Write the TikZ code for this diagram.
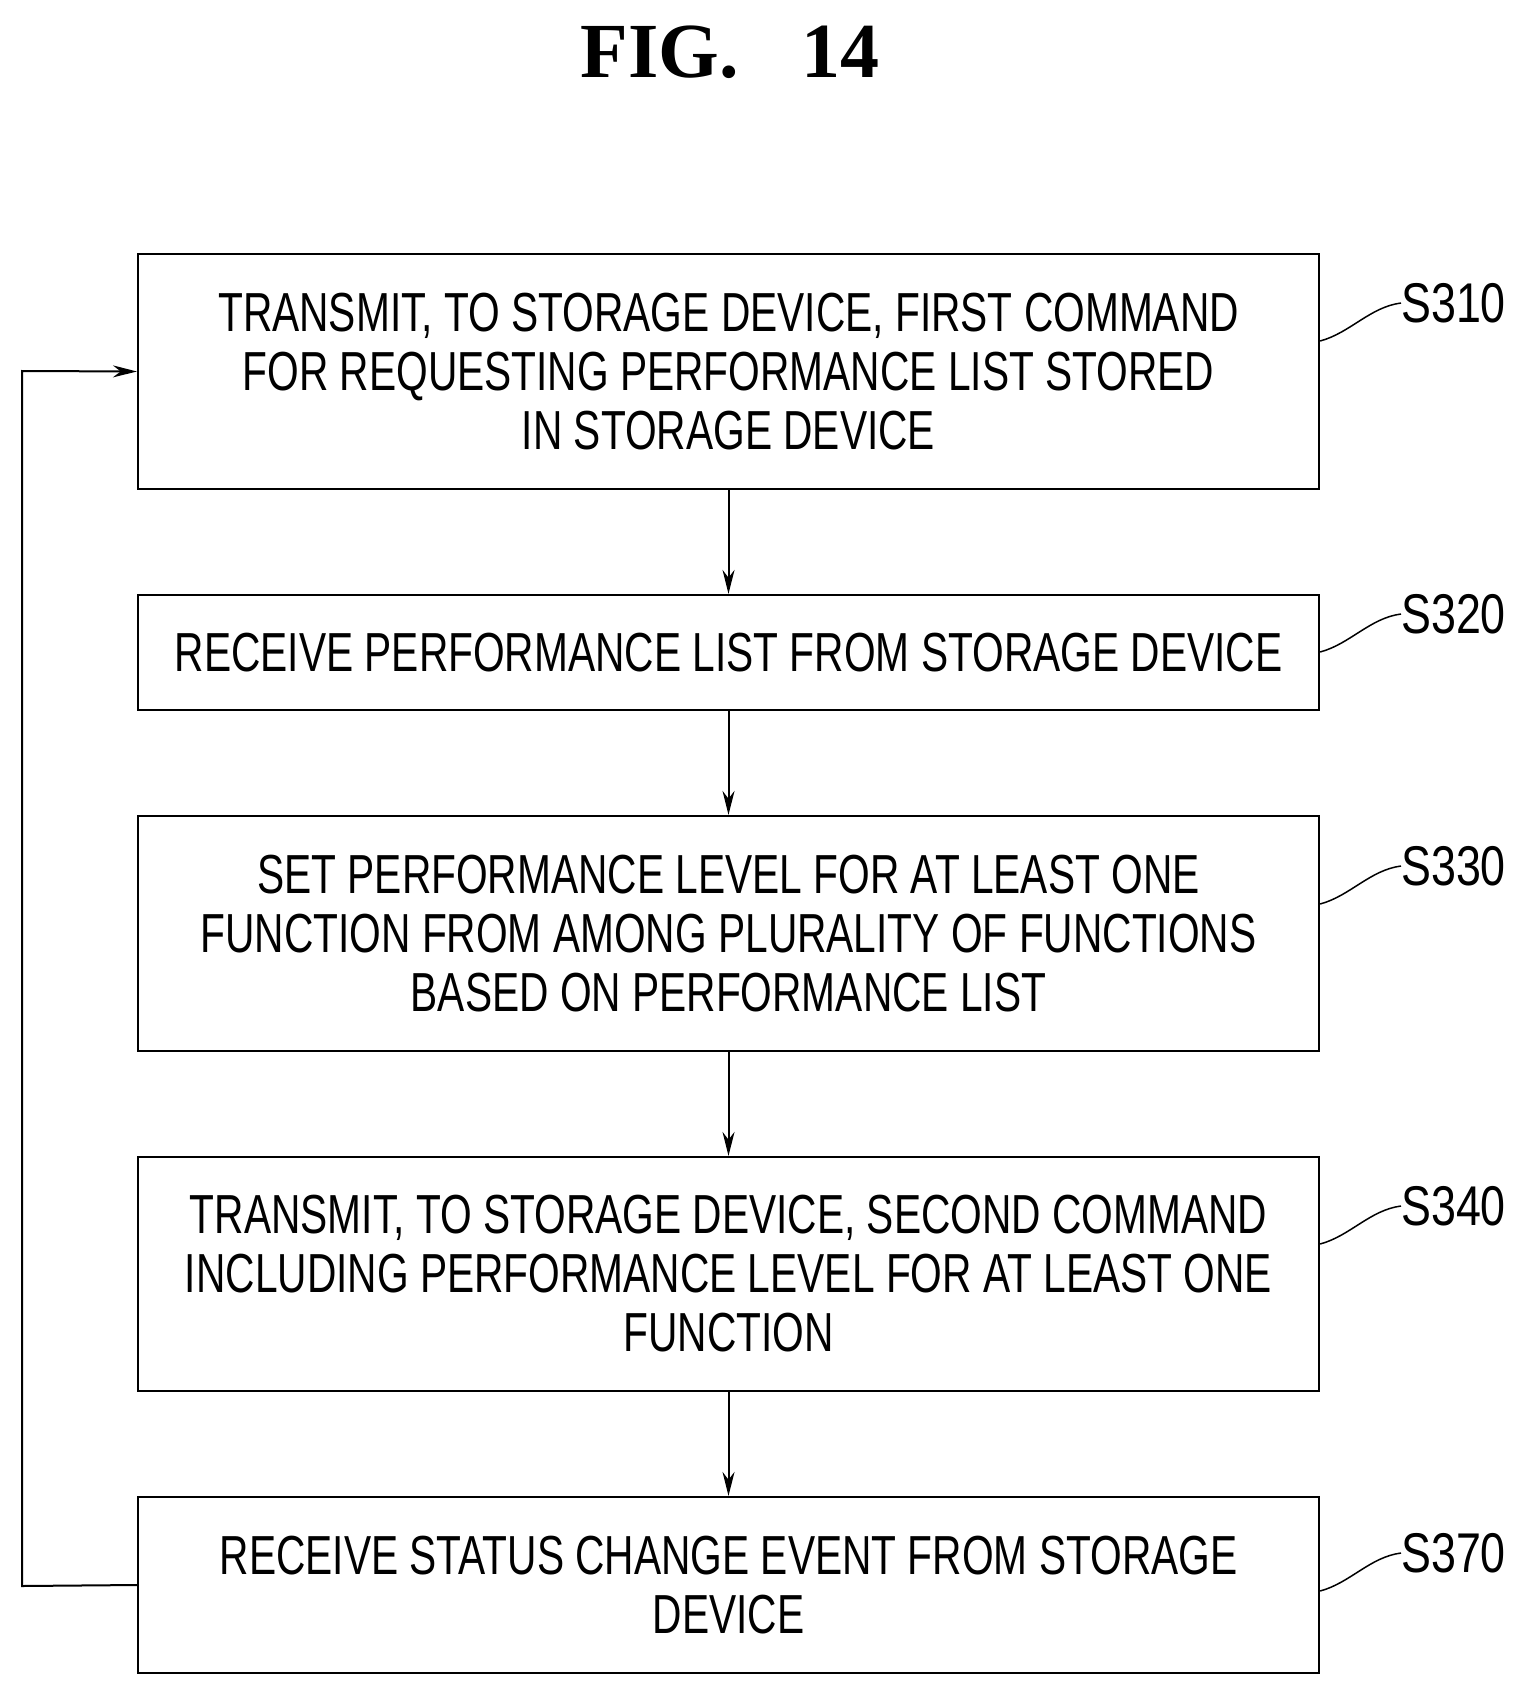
\documentclass[tikz,border=0pt]{standalone}
\usepackage{fontspec}
\setmainfont{Liberation Sans}
\newfontfamily\cond[FakeStretch=0.74]{Liberation Sans}
\newfontfamily\condl[FakeStretch=0.80]{Liberation Sans}
\newfontfamily\titlef{Liberation Serif}
\usetikzlibrary{arrows.meta}
\begin{document}
\begin{tikzpicture}[x=1pt,y=-1pt,
  box/.style={draw,line width=2.2pt,minimum width=1181pt,inner sep=0pt,align=center,
    font=\cond\fontsize{55}{59}\selectfont},
  arr/.style={line width=2pt,-{Stealth[length=24pt,width=12pt]}},
  lab/.style={font=\condl\fontsize{56}{60}\selectfont,anchor=west,inner sep=0pt},
  lead/.style={line width=1.5pt}]
\useasboundingbox (0,0) rectangle (1526,1696);
\node[font=\titlef\bfseries\fontsize{78}{80}\selectfont] (title) at (730,52) {FIG.\hspace{0.8em}14};
\node[box,minimum height=235pt] (b1) at (728.5,371.5) {TRANSMIT, TO STORAGE DEVICE, FIRST COMMAND\\FOR REQUESTING PERFORMANCE LIST STORED\\IN STORAGE DEVICE};
\node[box,minimum height=115pt] (b2) at (728.5,652.5) {RECEIVE PERFORMANCE LIST FROM STORAGE DEVICE};
\node[box,minimum height=235pt] (b3) at (728.5,933.5) {SET PERFORMANCE LEVEL FOR AT LEAST ONE\\FUNCTION FROM AMONG PLURALITY OF FUNCTIONS\\BASED ON PERFORMANCE LIST};
\node[box,minimum height=234pt] (b4) at (728.5,1274) {TRANSMIT, TO STORAGE DEVICE, SECOND COMMAND\\INCLUDING PERFORMANCE LEVEL FOR AT LEAST ONE\\FUNCTION};
\node[box,minimum height=176pt] (b5) at (728.5,1585) {RECEIVE STATUS CHANGE EVENT FROM STORAGE\\DEVICE};
\draw[arr] (b1) -- (b2);
\draw[arr] (b2) -- (b3);
\draw[arr] (b3) -- (b4);
\draw[arr] (b4) -- (b5);
\coordinate (lp1) at (22,1586);
\coordinate (lp2) at (22,371);
\draw[arr] (b5.west) -- (lp1) -- (lp2) -- (b1.west);
\foreach \n/\t/\y in {b1/S310/303,b2/S320/614,b3/S330/866,b4/S340/1206,b5/S370/1553}{
  \node[lab] (l\n) at (1401,\y) {\t};
  \draw[lead] (\n.east |- 0,\y+38) .. controls (1350,\y+30) and (1370,\y+4) .. (l\n.west);
}
\end{tikzpicture}
\end{document}
